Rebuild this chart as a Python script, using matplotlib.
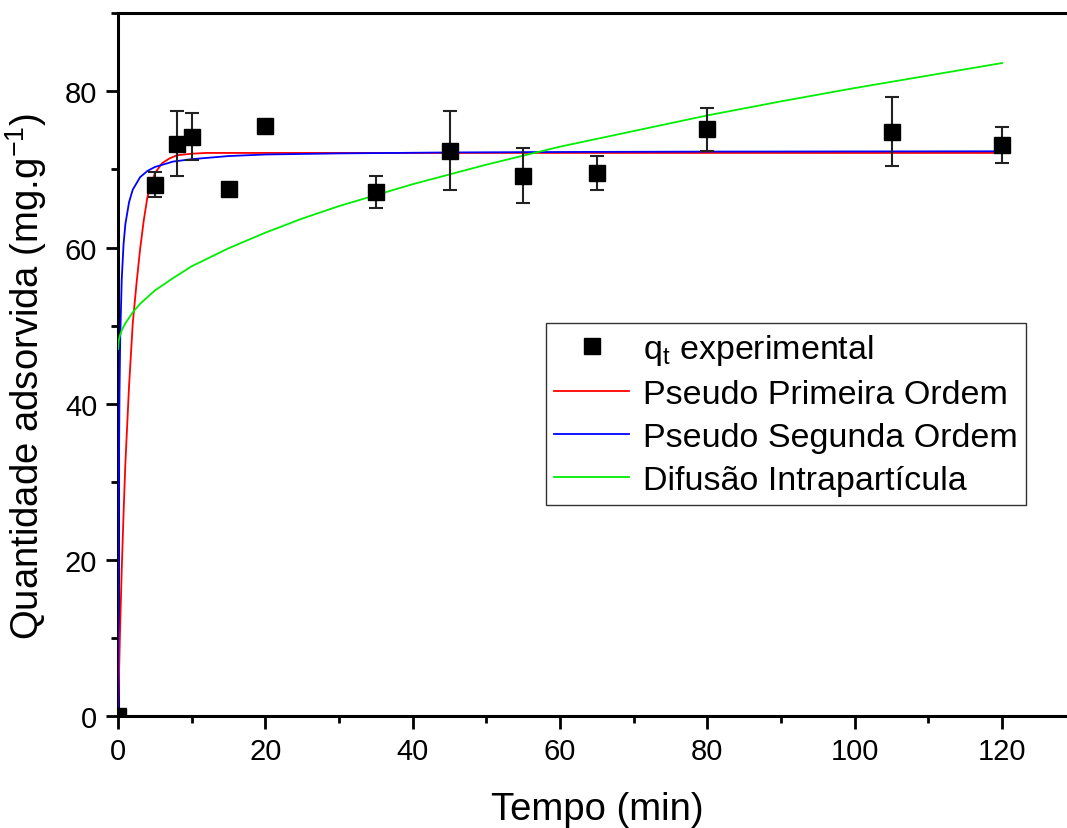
import matplotlib
matplotlib.use("Agg")
import matplotlib.pyplot as plt
from matplotlib.ticker import MultipleLocator
from matplotlib.lines import Line2D

plt.rcParams['font.family'] = ['Liberation Sans', 'DejaVu Sans']
plt.rcParams['mathtext.fontset'] = 'custom'
plt.rcParams['mathtext.rm'] = 'Liberation Sans'
plt.rcParams['mathtext.it'] = 'Liberation Sans'

# dados experimentais
tempo = [0, 5, 8, 10, 15, 20, 35, 45, 55, 65, 80, 105, 120]
qt = [0, 68.0, 73.3, 74.2, 67.5, 75.5, 67.1, 72.4, 69.2, 69.5, 75.1, 74.8, 73.1]
erro = [0, 1.6, 4.1, 3.0, 0, 0, 2.0, 5.05, 3.55, 2.2, 2.7, 4.4, 2.26]

# curvas ajustadas
t_ppo = [0, 0.1, 0.25, 0.5, 0.75, 1, 1.5, 2, 2.5, 3, 3.5, 4, 5, 6, 7, 8, 10, 12, 15, 20, 30, 60, 120]
q_ppo = [0, 4.1, 10.0, 18.6, 25.9, 32.4, 42.3, 50.3, 55.3, 59.8, 63.5, 66.5, 69.5, 70.8, 71.4, 71.8,
         72.0, 72.1, 72.1, 72.1, 72.1, 72.1, 72.1]

t_pso = [0, 0.02, 0.05, 0.1, 0.2, 0.3, 0.5, 0.75, 1, 1.5, 2, 3, 4, 5, 7.5, 10, 15, 20, 30, 45, 60, 80, 100, 120]
q_pso = [0, 8.6, 18.2, 29.0, 41.5, 48.3, 55.8, 60.4, 63.0, 65.8, 67.4, 69.0, 69.8, 70.3, 71.0, 71.3,
         71.7, 71.9, 72.04, 72.16, 72.22, 72.27, 72.29, 72.31]

t_dif = [0, 0.1, 0.25, 0.5, 1, 2, 3, 5, 7.5, 10, 15, 20, 25, 30, 40, 50, 60, 70, 80, 90, 100, 110, 120]
q_dif = [47.0, 48.1, 48.7, 49.4, 50.3, 51.7, 52.8, 54.5, 56.1, 57.6, 59.9, 61.9, 63.7, 65.3, 68.1,
         70.6, 72.9, 74.9, 76.9, 78.7, 80.4, 82.0, 83.6]

fig = plt.figure(figsize=(10.67, 8.29), dpi=100)
ax = fig.add_axes([0.1106, 0.1345, 0.8976, 0.8486])

l1, = ax.plot(t_ppo, q_ppo, color="#ff0000", lw=1.3, label="Pseudo Primeira Ordem", zorder=3)
l2, = ax.plot(t_pso, q_pso, color="#0000ff", lw=1.3, label="Pseudo Segunda Ordem", zorder=3)
l3, = ax.plot(t_dif, q_dif, color="#00ee00", lw=1.3, label="Difusão Intrapartícula", zorder=3)
ax.errorbar(tempo, qt, yerr=erro, fmt="s", color="black", ms=12, ecolor="#222222",
            elinewidth=1.5, capsize=4.7, capthick=1.5, zorder=4)

ax.set_xlim(0, 130)
ax.set_ylim(0, 90)
ax.xaxis.set_major_locator(MultipleLocator(20))
ax.xaxis.set_minor_locator(MultipleLocator(10))
ax.yaxis.set_major_locator(MultipleLocator(20))
ax.yaxis.set_minor_locator(MultipleLocator(10))
ax.tick_params(which="major", direction="out", length=9, width=2, labelsize=21, pad=6)
ax.tick_params(which="minor", direction="out", length=5, width=2)
for s in ["left", "bottom", "top"]:
    ax.spines[s].set_linewidth(2.2)
ax.spines["right"].set_visible(False)

ax.set_xlabel("Tempo (min)", fontsize=27.5)
ax.set_ylabel("Quantidade adsorvida (mg.g$^{-1}$)", fontsize=27.5)
ax.xaxis.set_label_coords(0.5, -0.106)
ax.yaxis.set_label_coords(-0.072, 0.485)

quadrado = Line2D([], [], marker="s", color="black", ls="none", ms=11)
leg = ax.legend([quadrado, l1, l2, l3],
                ["q$_t$ experimental", "Pseudo Primeira Ordem", "Pseudo Segunda Ordem",
                 "Difusão Intrapartícula"],
                loc="upper left", bbox_to_anchor=(0.4466, 0.5593), borderaxespad=0,
                fontsize=24.5, frameon=True, fancybox=False, edgecolor="black",
                handlelength=2.2, handletextpad=0.4, labelspacing=0.36, borderpad=0.25)
leg.get_frame().set_linewidth(1.0)

fig.savefig("out.png", dpi=100)
